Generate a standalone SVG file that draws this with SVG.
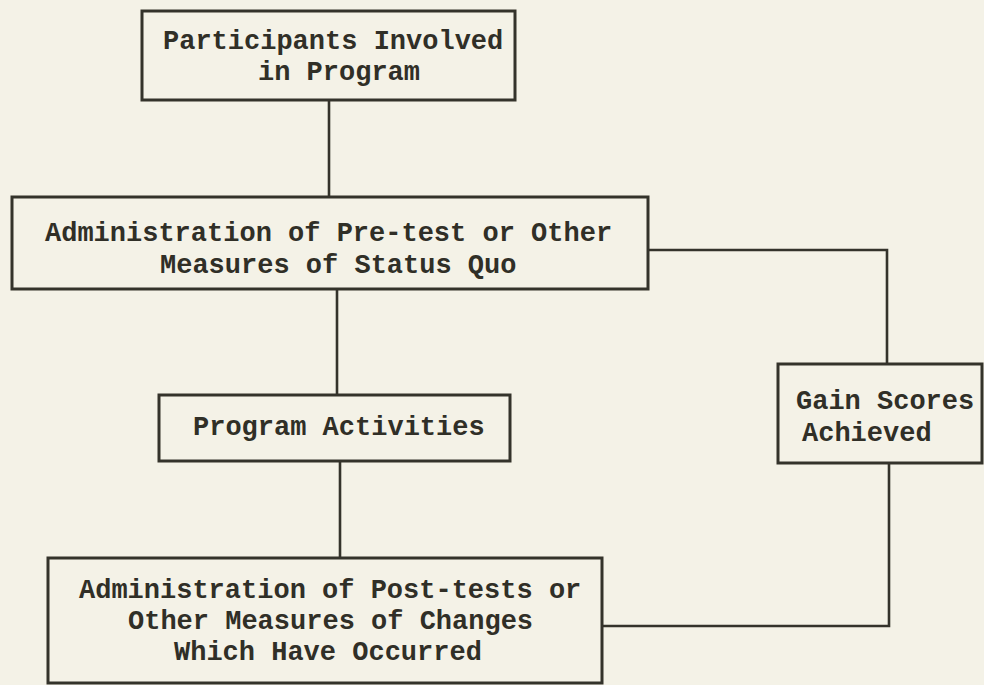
<svg xmlns="http://www.w3.org/2000/svg" width="984" height="685" viewBox="0 0 984 685">
<style>
.bg{fill:#f4f2e7}
.box{fill:none;stroke:#34332b;stroke-width:3}
.con{fill:none;stroke:#34332b;stroke-width:2.6}
.t{font-family:"Liberation Mono","DejaVu Sans Mono",monospace;font-weight:bold;font-size:27px;fill:#302f27}
</style>
<rect class="bg" x="0" y="0" width="984" height="685"/>
<g id="connectors">
<path class="con" d="M329,100 V197"/>
<path class="con" d="M337,289 V395"/>
<path class="con" d="M340,461 V558"/>
<path class="con" d="M648,250 H887 V364"/>
<path class="con" d="M889,463 V626 H602"/>
</g>
<g id="participants">
<rect class="box" x="142" y="11" width="373" height="89"/>
<text class="t" x="163" y="49">Participants Involved</text>
<text class="t" x="258" y="80">in Program</text>
</g>
<g id="pretest">
<rect class="box" x="12" y="197" width="636" height="92"/>
<text class="t" x="45" y="241">Administration of Pre-test or Other</text>
<text class="t" x="160" y="273">Measures of Status Quo</text>
</g>
<g id="activities">
<rect class="box" x="159" y="395" width="351" height="66"/>
<text class="t" x="193" y="435">Program Activities</text>
</g>
<g id="gain">
<rect class="box" x="778" y="364" width="204" height="99"/>
<text class="t" x="796" y="409">Gain Scores</text>
<text class="t" x="802" y="441">Achieved</text>
</g>
<g id="posttest">
<rect class="box" x="48" y="558" width="554" height="125"/>
<text class="t" x="79" y="598">Administration of Post-tests or</text>
<text class="t" x="128" y="629">Other Measures of Changes</text>
<text class="t" x="174" y="660">Which Have Occurred</text>
</g>
</svg>
